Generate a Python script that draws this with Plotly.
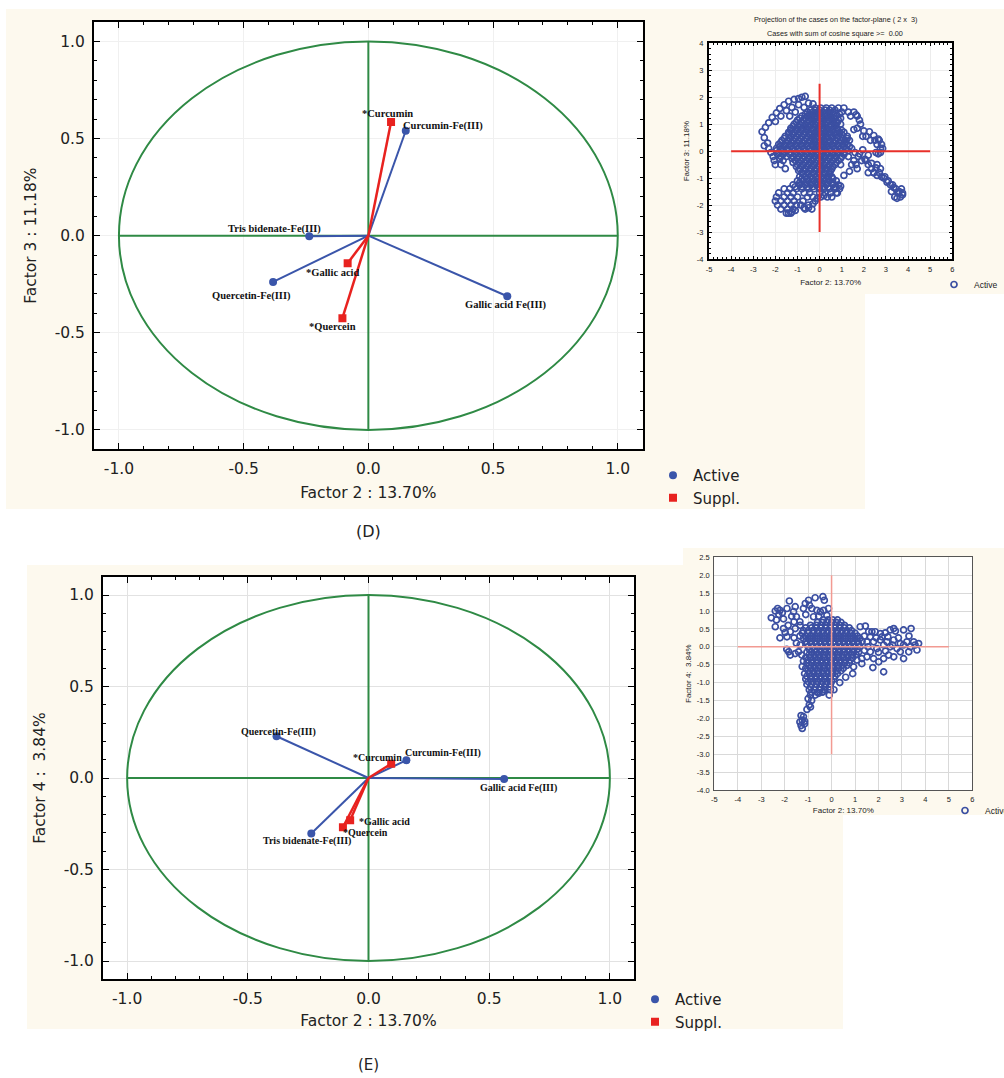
import plotly.graph_objects as go

W, H = 1004, 1078

# ---------------- data: variable loadings ----------------
ACTIVE_NAMES = ["Curcumin-Fe(III)", "Tris bidenate-Fe(III)", "Quercetin-Fe(III)", "Gallic acid Fe(III)"]
SUPPL_NAMES = ["*Curcumin", "*Gallic acid", "*Quercein"]

# Panel D : Factor 2 (x) vs Factor 3 (y)
D_ACTIVE_X = [0.150, -0.237, -0.382, 0.557]
D_ACTIVE_Y = [0.540, -0.003, -0.238, -0.312]
D_SUPPL_X = [0.091, -0.083, -0.104]
D_SUPPL_Y = [0.585, -0.142, -0.425]

# Panel E : Factor 2 (x) vs Factor 4 (y)
E_ACTIVE_X = [0.157, -0.237, -0.381, 0.562]
E_ACTIVE_Y = [0.097, -0.303, 0.228, -0.005]
E_SUPPL_X = [0.094, -0.076, -0.106]
E_SUPPL_Y = [0.078, -0.231, -0.269]

MAIN_TICKS = [-1.0, -0.5, 0.0, 0.5, 1.0]
MAIN_TICK_LABELS = ["-1.0", "-0.5", "0.0", "0.5", "1.0"]

# ---------------- data: case projections (insets) ----------------
TOP_CORE_ROWS = [
    (1.6, [-0.2, 0.05, 0.3, 0.55, 0.85, 1.1]),
    (1.45, [-0.55, -0.3, -0.1, 0.15, 0.4, 0.6, 1.0, 1.3, 1.55]),
    (1.3, [-0.8, -0.55, -0.35, -0.15, 0.1, 0.3, 0.5, 0.75, 1.4, 1.7]),
    (1.15, [-1.0, -0.75, -0.5, -0.3, -0.05, 0.2, 0.4, 0.6, 0.85, 1.8]),
    (1.0, [-1.15, -0.9, -0.65, -0.4, -0.2, 0.05, 0.25, 0.5, 0.7, 0.95]),
    (0.85, [-1.3, -1.05, -0.8, -0.6, -0.35, -0.1, 0.15, 0.35, 0.6, 0.8, 1.7]),
    (0.7, [-1.4, -1.15, -0.9, -0.65, -0.45, -0.2, 0.0, 0.25, 0.45, 0.65, 0.9, 1.1]),
    (0.55, [-1.55, -1.3, -1.05, -0.8, -0.55, -0.3, -0.1, 0.15, 0.35, 0.6, 0.85, 1.25, 1.95, 2.1]),
    (0.4, [-1.7, -1.45, -1.2, -0.95, -0.7, -0.45, -0.25, 0.0, 0.2, 0.45, 0.7, 0.95, 1.15, 1.35, 2.3, 2.5, 2.7]),
    (0.25, [-1.85, -1.6, -1.35, -1.1, -0.85, -0.6, -0.35, -0.15, 0.1, 0.3, 0.55, 0.8, 1.05, 1.25, 2.6, 2.8]),
    (0.1, [-2.3, -1.95, -1.7, -1.45, -1.2, -0.95, -0.7, -0.45, -0.2, 0.0, 0.25, 0.45, 0.7, 0.95, 1.2, 1.45, 2.75]),
    (-0.05, [-2.2, -1.85, -1.6, -1.3, -1.05, -0.8, -0.55, -0.3, -0.1, 0.15, 0.35, 0.6, 0.85, 1.1, 1.6, 2.55, 2.75]),
    (-0.2, [-2.1, -1.75, -1.5, -1.2, -0.95, -0.7, -0.45, -0.2, 0.05, 0.25, 0.5, 0.75, 1.0, 1.3, 1.75]),
    (-0.35, [-2.05, -1.65, -1.1, -0.85, -0.6, -0.35, -0.1, 0.1, 0.35, 0.6, 0.85, 1.55, 1.9, 2.1]),
    (-0.5, [-2.0, -1.75, -1.0, -0.75, -0.5, -0.25, 0.0, 0.2, 0.45, 0.7, 0.95, 1.45, 2.2, 2.6]),
    (-0.65, [-1.55, -0.9, -0.65, -0.4, -0.15, 0.1, 0.3, 0.55, 1.7, 2.35, 2.75]),
    (-0.8, [-0.8, -0.55, -0.3, -0.05, 0.2, 0.45, 2.2, 2.45, 2.7]),
    (-0.95, [-0.9, -0.65, -0.4, -0.15, 0.1, 0.35, 0.55, 2.8, 2.95]),
    (-1.1, [-1.0, -0.75, -0.5, -0.25, 0.0, 0.2, 0.45, 0.75, 3.1]),
    (-1.25, [-1.2, -0.9, -0.65, -0.4, -0.15, 0.05, 0.3, 0.6, 0.85, 3.3]),
    (-1.4, [-1.6, -1.35, -1.05, -0.8, -0.5, -0.25, 0.0, 0.2, 0.45, 0.7, 0.9, 3.45, 3.7]),
    (-1.55, [-1.85, -1.45, -1.2, -0.7, -0.45, 0.0, 0.25, 0.5, 0.75, 3.55, 3.75]),
    (-1.7, [-1.95, -1.6, -1.3, -1.0, -0.55, -0.3, 0.05, 0.35, 3.4, 3.65]),
    (-1.85, [-2.0, -1.75, -1.45, -1.15, -0.75, -0.2]),
    (-2.0, [-1.9, -1.6, -1.3, -1.05, -0.85, -0.5]),
    (-2.15, [-1.75, -1.45, -1.2, -0.65, -0.35]),
    (-2.3, [-1.5, -1.3]),
]
TOP_CORE_FILL = [
    (1.52, [-0.4, -0.2, 0.0, 0.25, 0.45, 0.7]),
    (1.37, [-0.65, -0.45, -0.25, 0.0, 0.2, 0.45, 0.65, 0.9]),
    (1.22, [-0.9, -0.65, -0.4, -0.2, 0.05, 0.25, 0.5, 0.7, 0.95]),
    (1.07, [-1.05, -0.8, -0.55, -0.3, -0.1, 0.15, 0.35, 0.6, 0.8]),
    (0.92, [-1.2, -0.95, -0.7, -0.5, -0.25, 0.0, 0.2, 0.45, 0.7]),
    (0.77, [-1.3, -1.05, -0.8, -0.55, -0.3, -0.1, 0.1, 0.35, 0.55, 0.8, 1.0]),
    (0.62, [-1.4, -1.2, -0.95, -0.7, -0.45, -0.2, 0.05, 0.25, 0.5, 0.75, 1.0]),
    (0.47, [-1.6, -1.35, -1.1, -0.85, -0.6, -0.35, -0.15, 0.1, 0.3, 0.55, 0.8, 1.05, 1.25]),
    (0.32, [-1.75, -1.5, -1.25, -1.0, -0.75, -0.5, -0.25, 0.0, 0.2, 0.45, 0.65, 0.9, 1.15]),
    (0.17, [-1.8, -1.55, -1.3, -1.05, -0.8, -0.55, -0.3, -0.1, 0.15, 0.35, 0.6, 0.85, 1.1, 1.35]),
    (0.02, [-1.95, -1.7, -1.45, -1.15, -0.9, -0.65, -0.4, -0.2, 0.05, 0.25, 0.5, 0.75, 1.0, 1.3]),
    (-0.12, [-1.9, -1.65, -1.35, -1.1, -0.85, -0.6, -0.35, -0.15, 0.1, 0.3, 0.55, 0.8, 1.1]),
    (-0.27, [-1.8, -1.25, -1.0, -0.75, -0.5, -0.3, -0.05, 0.2, 0.45, 0.7, 0.95]),
    (-0.42, [-1.2, -0.95, -0.7, -0.45, -0.2, 0.05, 0.25, 0.5, 0.75]),
    (-0.57, [-1.05, -0.8, -0.55, -0.3, -0.05, 0.15, 0.4, 0.6]),
    (-0.72, [-0.95, -0.7, -0.45, -0.2, 0.05, 0.3, 0.5]),
    (-0.87, [-0.75, -0.5, -0.25, 0.0, 0.25, 0.45]),
    (-1.02, [-0.8, -0.55, -0.3, -0.05, 0.15, 0.4, 0.6]),
    (-1.17, [-0.9, -0.6, -0.35, -0.1, 0.1, 0.35, 0.6]),
    (-1.32, [-1.1, -0.8, -0.55, -0.3, -0.05, 0.15, 0.4, 0.7]),
]
TOP_EXTRA = [
    (-2.6, 0.72), (-2.45, 0.88), (-2.3, 1.05), (-2.14, 1.25), (-1.95, 1.42), (-1.8, 1.58),
    (-1.6, 1.72), (-1.4, 1.85), (-1.15, 1.92), (-0.95, 1.95), (-0.8, 2.0), (-0.65, 2.03),
    (-0.5, 1.78), (-0.3, 1.75), (-2.5, 0.5), (-2.0, 1.1), (-1.75, 1.3), (-1.5, 1.5),
    (-1.25, 1.62), (-0.95, 1.72), (-0.7, 1.62), (-1.1, 1.45), (-1.35, 1.3), (-2.35, 0.3),
    (-2.5, 0.2), (1.65, 1.35), (1.85, 1.0), (1.55, 0.8), (2.0, 0.75), (2.25, 0.72),
    (2.45, 0.58), (2.65, 0.45), (2.85, 0.1), (2.65, -0.1), (2.05, -0.3), (2.35, -0.45),
    (2.55, -0.62), (2.45, -0.8), (2.6, -0.9), (2.9, -1.0), (3.05, -1.15), (3.2, -1.25),
    (3.35, -1.35), (3.6, -1.5), (3.75, -1.62), (3.5, -1.75), (3.25, -1.5), (1.8, -0.1),
    (1.95, 0.05), (2.2, -0.15), (1.65, -0.5), (1.35, -0.75), (1.1, -0.9), (0.95, -1.3),
    (0.8, -1.55), (0.55, -1.7), (0.2, -1.65), (-0.1, -1.75), (-0.3, -1.95), (-0.5, -2.1),
    (-0.7, -2.1), (-1.1, -2.2), (-1.4, -2.3), (-1.25, -2.25),
]

BOT_CORE_ROWS = [
    (0.75, [-0.35, -0.15, 0.05, 0.25]),
    (0.6, [-0.9, -0.65, -0.45, -0.25, -0.05, 0.15, 0.35, 0.55]),
    (0.45, [-1.2, -1.0, -0.75, -0.55, -0.35, -0.15, 0.05, 0.25, 0.45, 0.65, 0.85]),
    (0.3, [-1.35, -1.1, -0.9, -0.7, -0.5, -0.3, -0.1, 0.1, 0.3, 0.5, 0.7, 0.9, 1.1]),
    (0.15, [-1.1, -0.9, -0.7, -0.5, -0.3, -0.1, 0.1, 0.3, 0.5, 0.7, 0.9, 1.1, 1.3]),
    (0.0, [-1.0, -0.8, -0.6, -0.4, -0.2, 0.0, 0.2, 0.4, 0.6, 0.8, 1.0, 1.2]),
    (-0.15, [-1.05, -0.85, -0.65, -0.45, -0.25, -0.05, 0.15, 0.35, 0.55, 0.75, 0.95, 1.15]),
    (-0.3, [-1.1, -0.9, -0.7, -0.5, -0.3, -0.1, 0.1, 0.3, 0.5, 0.7, 0.9]),
    (-0.45, [-1.05, -0.85, -0.65, -0.45, -0.25, -0.05, 0.15, 0.35, 0.55, 0.75]),
    (-0.6, [-1.1, -0.9, -0.7, -0.5, -0.3, -0.1, 0.1, 0.3, 0.5]),
    (-0.75, [-1.15, -0.95, -0.75, -0.55, -0.35, -0.15, 0.05, 0.25]),
    (-0.9, [-1.1, -0.9, -0.7, -0.5, -0.3, -0.1, 0.1]),
    (-1.05, [-1.05, -0.85, -0.65, -0.45, -0.25, -0.05]),
    (-1.2, [-0.95, -0.75, -0.5, -0.3, -0.05]),
    (-1.35, [-0.9, -0.7]),
]
BOT_CORE_FILL = [
    (0.68, [-0.6, -0.4, -0.2, 0.0, 0.2, 0.4]),
    (0.53, [-1.1, -0.85, -0.65, -0.45, -0.25, -0.05, 0.15, 0.35, 0.55, 0.75]),
    (0.38, [-1.25, -1.0, -0.8, -0.6, -0.4, -0.2, 0.0, 0.2, 0.4, 0.6, 0.8, 1.0]),
    (0.23, [-1.2, -1.0, -0.8, -0.6, -0.4, -0.2, 0.0, 0.2, 0.4, 0.6, 0.8, 1.0, 1.2]),
    (0.08, [-1.05, -0.85, -0.65, -0.45, -0.25, -0.05, 0.15, 0.35, 0.55, 0.75, 0.95, 1.15]),
    (-0.07, [-0.95, -0.7, -0.5, -0.3, -0.1, 0.1, 0.3, 0.5, 0.7, 0.9, 1.1]),
    (-0.22, [-0.95, -0.75, -0.55, -0.35, -0.15, 0.05, 0.25, 0.45, 0.65, 0.85, 1.05]),
    (-0.37, [-1.0, -0.8, -0.6, -0.4, -0.2, 0.0, 0.2, 0.4, 0.6, 0.8]),
    (-0.52, [-0.95, -0.75, -0.55, -0.35, -0.15, 0.05, 0.25, 0.45, 0.65]),
    (-0.67, [-1.0, -0.8, -0.6, -0.4, -0.2, 0.0, 0.2, 0.4]),
    (-0.82, [-1.05, -0.85, -0.65, -0.45, -0.25, -0.05, 0.15]),
    (-0.97, [-1.0, -0.8, -0.6, -0.4, -0.2, 0.0]),
    (-1.12, [-0.9, -0.7, -0.5, -0.3, -0.1]),
    (-1.27, [-0.85, -0.6, -0.4]),
]
BOT_EXTRA = [
    (-0.85, -1.5), (-0.95, -1.62), (-1.05, -1.75), (-0.9, -1.68), (-1.3, -1.92), (-1.2, -1.95),
    (-1.25, -2.05), (-1.15, -2.08), (-1.3, -2.2), (-1.25, -2.28), (-1.15, -2.15), (-1.35, -2.1),
    (-2.57, 0.81), (-2.4, 1.0), (-2.3, 1.07), (-2.2, 1.02), (-2.25, 0.9), (-2.1, 0.95),
    (-2.35, 0.75), (-2.05, 0.78), (-1.9, 1.07), (-1.8, 1.28), (-1.55, 1.12), (-1.62, 0.98),
    (-1.7, 0.85), (-1.5, 0.84), (-1.85, 0.6), (-1.6, 0.7), (-1.35, 0.7), (-1.2, 1.07),
    (-1.1, 0.9), (-0.98, 1.3), (-0.7, 1.37), (-0.94, 1.16), (-1.12, 1.21), (-0.84, 1.07),
    (-0.63, 1.02), (-0.37, 1.4), (-0.31, 1.3), (-0.13, 1.07), (-0.34, 1.02), (-0.48, 0.98),
    (-0.77, 0.84), (-0.55, 0.85), (-0.2, 0.88), (-2.4, 0.56), (-2.05, 0.51), (-1.98, 0.4),
    (-1.76, 0.42), (-1.55, 0.51), (-1.34, 0.6), (-2.2, 0.25), (-1.9, 0.28), (-1.6, 0.25),
    (-1.91, -0.07), (-1.83, -0.14), (-1.76, -0.23), (-1.55, -0.19), (-1.41, -0.14),
    (-1.34, 0.05), (-1.27, -0.23), (-1.2, -0.4), (-1.25, -0.55), (-1.5, 0.1),
    (1.22, 0.56), (1.44, 0.58), (1.58, 0.42), (1.72, 0.42), (1.86, 0.42), (2.08, 0.37),
    (2.29, 0.39), (2.5, 0.47), (2.65, 0.51), (2.72, 0.44), (3.07, 0.47), (3.39, 0.51),
    (1.51, 0.14), (1.79, 0.14), (2.08, 0.19), (2.36, 0.14), (2.65, 0.19), (2.93, 0.09),
    (3.21, 0.14), (3.5, 0.14), (3.71, 0.09), (3.56, 0.05), (3.36, 0.0), (3.07, 0.05),
    (2.79, -0.05), (2.5, 0.0), (2.22, 0.05), (1.93, -0.05), (1.65, -0.14), (1.51, -0.28),
    (1.79, -0.33), (2.01, -0.42), (2.22, -0.33), (2.43, -0.23), (2.65, -0.28), (2.93, -0.14),
    (3.07, -0.33), (3.29, -0.14), (3.64, -0.09), (1.76, -0.58), (2.22, -0.7), (1.29, -0.33),
    (1.08, -0.37), (0.94, -0.56), (1.29, -0.47), (1.4, 0.3), (1.65, 0.28), (1.9, 0.25),
    (2.15, 0.28), (2.4, 0.28), (2.6, 0.05), (2.85, 0.25), (3.3, 0.3), (2.0, -0.15),
    (2.3, -0.12), (1.4, -0.1), (1.55, 0.0), (0.9, -0.75), (0.6, -0.85), (0.35, -1.0),
    (0.1, -1.2), (-0.1, -1.35), (-0.35, -1.25), (-0.55, -1.3), (-1.0, -1.45),
]

TOP_CROSS_X = [-4, 5]
TOP_CROSS_Y = [-3, 2.5]
BOT_CROSS_X = [-4, 5]
BOT_CROSS_Y = [-3, 2]

INSET_X_TICKS = [-5, -4, -3, -2, -1, 0, 1, 2, 3, 4, 5, 6]
TOP_Y_TICKS = [-4, -3, -2, -1, 0, 1, 2, 3, 4]
BOT_Y_TICKS = [-4.0, -3.5, -3.0, -2.5, -2.0, -1.5, -1.0, -0.5, 0.0, 0.5, 1.0, 1.5, 2.0, 2.5]

# ---------------- styling / positions (pixels) ----------------
BEIGE = "#fdf9ee"
GREEN = "#2f8a45"
BLUE = "#3a55aa"
RED = "#e8221f"
CASE_BLUE = "#3b4fa2"
SANS = "DejaVu Sans"
NARROW = "Liberation Sans Narrow, Arial Narrow, Liberation Sans"
SERIF = "Liberation Serif, Times New Roman, serif"

# plot-area boxes in pixels: (left, top, right, bottom)
BOX_D = (94, 22, 642.7, 449.3)
BOX_E = (103, 576.7, 634, 979.3)
BOX_TI = (709, 43.3, 952.3, 259)
BOX_BI = (714.3, 557.3, 972.3, 790)

D_LABEL_OFF = {"Curcumin-Fe(III)": (37, -5), "Tris bidenate-Fe(III)": (-35, -7),
               "Quercetin-Fe(III)": (-22, 14), "Gallic acid Fe(III)": (-1, 9),
               "*Curcumin": (-4, -9), "*Gallic acid": (-15, 9), "*Quercein": (-10, 8)}
E_LABEL_OFF = {"Curcumin-Fe(III)": (37, -7), "Tris bidenate-Fe(III)": (-4, 8),
               "Quercetin-Fe(III)": (2, -4), "Gallic acid Fe(III)": (14, 9),
               "*Curcumin": (-14, -6), "*Gallic acid": (34, 1), "*Quercein": (23, 5)}


def fx(p):
    return p / W


def fy(p):
    return 1 - p / H


def flatten(row_groups, extra):
    xs, ys = [], []
    for rows in row_groups:
        for yv, row in rows:
            for xv in row:
                xs.append(xv)
                ys.append(yv)
    for xv, yv in extra:
        xs.append(xv)
        ys.append(yv)
    return xs, ys


fig = go.Figure()


def add_biplot(ax_x, ax_y, sx, sy, names_a, names_s, xa, ya, legend_id):
    lx, ly = [], []
    for x, y in zip(ax_x, ax_y):
        lx += [0, x, None]
        ly += [0, y, None]
    fig.add_trace(go.Scatter(x=lx, y=ly, mode="lines", line=dict(color=BLUE, width=2),
                             xaxis=xa, yaxis=ya, showlegend=False, hoverinfo="skip"))
    rx, ry = [], []
    for x, y in zip(sx, sy):
        rx += [0, x, None]
        ry += [0, y, None]
    fig.add_trace(go.Scatter(x=rx, y=ry, mode="lines", line=dict(color=RED, width=2.5),
                             xaxis=xa, yaxis=ya, showlegend=False, hoverinfo="skip"))
    fig.add_trace(go.Scatter(x=ax_x, y=ax_y, mode="markers", name="Active", text=names_a,
                             marker=dict(symbol="circle", size=8, color=BLUE),
                             xaxis=xa, yaxis=ya, legend=legend_id))
    fig.add_trace(go.Scatter(x=sx, y=sy, mode="markers", name="Suppl.", text=names_s,
                             marker=dict(symbol="square", size=8, color=RED),
                             xaxis=xa, yaxis=ya, legend=legend_id))


add_biplot(D_ACTIVE_X, D_ACTIVE_Y, D_SUPPL_X, D_SUPPL_Y, ACTIVE_NAMES, SUPPL_NAMES, "x", "y", "legend")
add_biplot(E_ACTIVE_X, E_ACTIVE_Y, E_SUPPL_X, E_SUPPL_Y, ACTIVE_NAMES, SUPPL_NAMES, "x2", "y2", "legend2")

tx, ty = flatten([TOP_CORE_ROWS, TOP_CORE_FILL], TOP_EXTRA)
bx, by = flatten([BOT_CORE_ROWS, BOT_CORE_FILL], BOT_EXTRA)
fig.add_trace(go.Scatter(x=tx, y=ty, mode="markers", name="Active",
                         marker=dict(symbol="circle-open", size=6, color=CASE_BLUE, line=dict(width=1.7)),
                         xaxis="x3", yaxis="y3", legend="legend3"))
fig.add_trace(go.Scatter(x=bx, y=by, mode="markers", name="Active",
                         marker=dict(symbol="circle-open", size=6, color=CASE_BLUE, line=dict(width=1.7)),
                         xaxis="x4", yaxis="y4", legend="legend4"))
# crosshairs
fig.add_trace(go.Scatter(x=TOP_CROSS_X + [None, 0, 0], y=[0, 0, None] + TOP_CROSS_Y, mode="lines",
                         line=dict(color="#e8302a", width=2), xaxis="x3", yaxis="y3",
                         showlegend=False, hoverinfo="skip"))
fig.add_trace(go.Scatter(x=BOT_CROSS_X + [None, 0, 0], y=[0, 0, None] + BOT_CROSS_Y, mode="lines",
                         line=dict(color="#f29a92", width=1.5), xaxis="x4", yaxis="y4",
                         showlegend=False, hoverinfo="skip"))

# ---------------- shapes ----------------
shapes = []
for (x0, y0, x1, y1) in [(6, 9, 865, 509), (667, 9, 1004, 294), (27, 565, 843, 1029), (683, 548, 1004, 815)]:
    shapes.append(dict(type="rect", xref="paper", yref="paper", x0=fx(x0), x1=fx(x1), y0=fy(y1), y1=fy(y0),
                       fillcolor=BEIGE, line=dict(width=0), layer="below"))
for (x0, y0, x1, y1) in [BOX_D, BOX_E, BOX_TI, BOX_BI]:
    shapes.append(dict(type="rect", xref="paper", yref="paper", x0=fx(x0), x1=fx(x1), y0=fy(y1), y1=fy(y0),
                       fillcolor="white", line=dict(width=0), layer="below"))
for xr, yr in [("x", "y"), ("x2", "y2")]:
    shapes.append(dict(type="circle", xref=xr, yref=yr, x0=-1, x1=1, y0=-1, y1=1,
                       line=dict(color=GREEN, width=2), layer="between"))
    shapes.append(dict(type="line", xref=xr, yref=yr, x0=-1, x1=1, y0=0, y1=0,
                       line=dict(color=GREEN, width=2), layer="between"))
    shapes.append(dict(type="line", xref=xr, yref=yr, x0=0, x1=0, y0=-1, y1=1,
                       line=dict(color=GREEN, width=2), layer="between"))

# ---------------- annotations ----------------
ann = []
for names_xy, off, xr, yr, fs in [
    ((ACTIVE_NAMES, D_ACTIVE_X, D_ACTIVE_Y), D_LABEL_OFF, "x", "y", 10.5),
    ((SUPPL_NAMES, D_SUPPL_X, D_SUPPL_Y), D_LABEL_OFF, "x", "y", 10.5),
    ((ACTIVE_NAMES, E_ACTIVE_X, E_ACTIVE_Y), E_LABEL_OFF, "x2", "y2", 10),
    ((SUPPL_NAMES, E_SUPPL_X, E_SUPPL_Y), E_LABEL_OFF, "x2", "y2", 10),
]:
    nms, xs, ys = names_xy
    for n, x, y in zip(nms, xs, ys):
        dx, dy = off[n]
        ann.append(dict(text="<b>%s</b>" % n, x=x, y=y, xref=xr, yref=yr, xshift=dx, yshift=-dy,
                        xanchor="center", yanchor="middle",
                        showarrow=False, font=dict(family=SERIF, size=fs, color="#111")))


def paper_text(text, px, py, family, size):
    return dict(text=text, x=fx(px), y=fy(py), xref="paper", yref="paper", showarrow=False,
                xanchor="center", yanchor="middle", font=dict(family=family, size=size, color="#222"))


ann.append(paper_text("(D)", 368, 532, SANS, 16))
ann.append(paper_text("(E)", 368, 1065, SANS, 15))
ann.append(paper_text("Projection of the cases on the factor-plane ( 2 x  3)", 835, 20, NARROW, 7.3))
ann.append(paper_text("Cases with sum of cosine square >=  0.00", 835, 33, NARROW, 7.3))


def main_axis(dom, anchor, title, grid, standoff):
    return dict(domain=dom, anchor=anchor, range=[-1.1, 1.1], tickmode="array", tickvals=MAIN_TICKS,
                ticktext=MAIN_TICK_LABELS, showgrid=True, gridcolor=grid, gridwidth=1,
                zeroline=False, showline=True, linecolor="black", linewidth=2, mirror="ticks",
                ticks="inside", ticklen=6, tickwidth=1, tickcolor="black",
                minor=dict(dtick=0.1, tick0=0, ticks="inside", ticklen=3, tickcolor="black", showgrid=False),
                tickfont=dict(family=SANS, size=15.5, color="#222"), ticklabelstandoff=4,
                title=dict(text=title, font=dict(family=SANS, size=15.5, color="#222"), standoff=standoff),
                fixedrange=True)


def inset_axis(dom, anchor, rng, vals, labels, title, thick, standoff):
    d = dict(domain=dom, anchor=anchor, range=rng, tickmode="array", tickvals=vals, ticktext=labels,
             showgrid=True, gridcolor="#ececec" if thick else "#d9d9d9", gridwidth=1, zeroline=False,
             showline=True, linecolor="black" if thick else "#555", linewidth=2 if thick else 1,
             mirror="ticks" if thick else True,
             tickfont=dict(family=NARROW, size=7.5, color="#222"), ticklabelstandoff=2,
             title=dict(text=title, font=dict(family=NARROW, size=8, color="#222"), standoff=standoff),
             fixedrange=True)
    if thick:
        d.update(ticks="inside", ticklen=3, tickcolor="black",
                 minor=dict(dtick=0.2, ticks="inside", ticklen=2, tickcolor="black", showgrid=False))
    else:
        d.update(ticks="")
    return d


fig.update_layout(
    width=W, height=H, autosize=False, margin=dict(l=0, r=0, t=0, b=0, pad=0, autoexpand=False),
    paper_bgcolor="white", plot_bgcolor="white",
    xaxis=main_axis([fx(BOX_D[0]), fx(BOX_D[2])], "y", "Factor 2 : 13.70%", "#f0f0f0", 10),
    yaxis=main_axis([fy(BOX_D[3]), fy(BOX_D[1])], "x", "Factor 3 : 11.18%", "#f0f0f0", 14),
    xaxis2=main_axis([fx(BOX_E[0]), fx(BOX_E[2])], "y2", "Factor 2 : 13.70%", "#e2e2e2", 8),
    yaxis2=main_axis([fy(BOX_E[3]), fy(BOX_E[1])], "x2", "Factor 4 :  3.84%", "#e2e2e2", 14),
    xaxis3=inset_axis([fx(BOX_TI[0]), fx(BOX_TI[2])], "y3", [-5, 6], INSET_X_TICKS,
                      [str(v) for v in INSET_X_TICKS], "Factor 2: 13.70%", True, 6),
    yaxis3=inset_axis([fy(BOX_TI[3]), fy(BOX_TI[1])], "x3", [-4, 4], TOP_Y_TICKS,
                      [str(v) for v in TOP_Y_TICKS], "Factor 3: 11.18%", True, 6),
    xaxis4=inset_axis([fx(BOX_BI[0]), fx(BOX_BI[2])], "y4", [-5, 6], INSET_X_TICKS,
                      [str(v) for v in INSET_X_TICKS], "Factor 2: 13.70%", False, 4),
    yaxis4=inset_axis([fy(BOX_BI[3]), fy(BOX_BI[1])], "x4", [-4, 2.5], BOT_Y_TICKS,
                      ["%.1f" % v for v in BOT_Y_TICKS], "Factor 4:  3.84%", False, 4),
    shapes=shapes, annotations=ann,
    legend=dict(x=fx(653), y=fy(459), xanchor="left", yanchor="top", bgcolor="rgba(0,0,0,0)",
                font=dict(family=SANS, size=15, color="#222"), tracegroupgap=0),
    legend2=dict(x=fx(635), y=fy(983), xanchor="left", yanchor="top", bgcolor="rgba(0,0,0,0)",
                 font=dict(family=SANS, size=15, color="#222"), tracegroupgap=0),
    legend3=dict(x=fx(934), y=fy(270), xanchor="left", yanchor="top", bgcolor="rgba(0,0,0,0)",
                 font=dict(family=NARROW, size=8.5, color="#222")),
    legend4=dict(x=fx(945), y=fy(796), xanchor="left", yanchor="top", bgcolor="rgba(0,0,0,0)",
                 font=dict(family=NARROW, size=8.5, color="#222")),
    hovermode="closest",
)

fig.write_html("out.html", config={"displayModeBar": False, "responsive": False},
               post_script="document.body.style.margin='0';")
